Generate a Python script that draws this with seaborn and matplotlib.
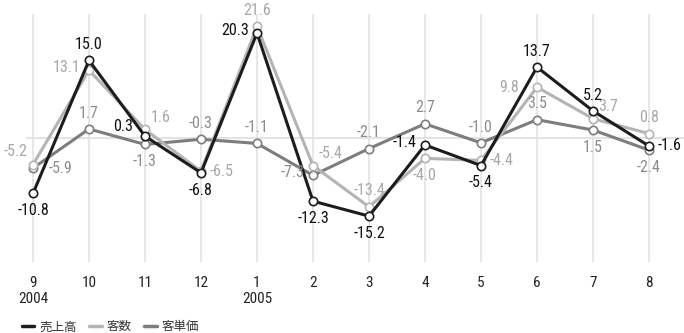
import matplotlib
matplotlib.use("Agg")
import matplotlib.pyplot as plt
import seaborn as sns
import pandas as pd
import numpy as np
from matplotlib.lines import Line2D
from matplotlib import font_manager

months = ["9", "10", "11", "12", "1", "2", "3", "4", "5", "6", "7", "8"]
years = ["2004", "", "", "", "2005", "", "", "", "", "", "", ""]
sales = [-10.8, 15.0, 0.3, -6.8, 20.3, -12.3, -15.2, -1.4, -5.4, 13.7, 5.2, -1.6]
customers = [-5.2, 13.1, 1.6, -6.5, 21.6, -5.4, -13.4, -4.0, -4.4, 9.8, 3.7, 0.8]
unit_price = [-5.9, 1.7, -1.3, -0.3, -1.1, -7.3, -2.1, 2.7, -1.0, 3.5, 1.5, -2.4]
series_names = ["売上高", "客数", "客単価"]

# label placement per point
pos_sales = ["b", "a", "l3", "b", "l", "b", "b", "l", "b", "a", "a", "r"]
pos_cust = ["lu", "l", "ru", "r", "a", "ru", "a", "b", "r", "l2", "ru", "a"]
pos_unit = ["r2", "a", "b", "a", "a", "l", "a", "a", "a", "a", "b", "b"]

sns.set_theme(style="white")

# pick a condensed font if one is installed
stretch = "normal"
num_family = "DejaVu Sans"
available = {(f.name, f.stretch) for f in font_manager.fontManager.ttflist}
names = {f.name for f in font_manager.fontManager.ttflist}
for cand in ["Roboto Condensed", "Liberation Sans Narrow", "Open Sans Condensed", "Noto Sans Condensed"]:
    if cand in names:
        num_family = cand
        break
else:
    if any(n == "DejaVu Sans" and s in ("condensed", "semi-condensed", 87, 75) for n, s in available):
        num_family = "DejaVu Sans"
        stretch = "condensed"
    elif any(n == "Roboto" and s in ("condensed", 75) for n, s in available):
        num_family = "Roboto"
        stretch = "condensed"

plt.rcParams["font.family"] = [num_family, "Noto Sans CJK JP", "DejaVu Sans"]
plt.rcParams["font.stretch"] = stretch

colors = {"売上高": "#1c1c1c", "客数": "#b4b4b4", "客単価": "#7d7d7d"}
label_colors = {"売上高": "#111111", "客数": "#a8a8a8", "客単価": "#8c8c8c"}

x = np.arange(len(months))
df = pd.concat([
    pd.DataFrame({"x": x, "value": sales, "series": series_names[0]}),
    pd.DataFrame({"x": x, "value": customers, "series": series_names[1]}),
    pd.DataFrame({"x": x, "value": unit_price, "series": series_names[2]}),
])

fig = plt.figure(figsize=(6.84, 3.33), dpi=100)
ax = fig.add_axes([26 / 684, 1 - 262 / 333, (684 - 26) / 684, (262 - 14) / 333])

for xi in x:
    ax.axvline(xi, color="#e3e3e3", lw=1.2, zorder=0)
ax.axhline(0, color="#e3e3e3", lw=1.5, zorder=0)

order = ["客単価", "客数", "売上高"]
for name in order:
    sub = df[df["series"] == name]
    sns.lineplot(data=sub, x="x", y="value", ax=ax, color=colors[name], lw=2.2,
                 marker="o", markersize=6, markerfacecolor="white",
                 markeredgecolor=colors[name], markeredgewidth=1.2, legend=False, zorder=3)

offsets = {"a": (0, 6, "center", "bottom"), "b": (0, -7, "center", "top"),
           "l": (-6, 2, "right", "center"), "r": (6, 0, "left", "center"),
           "l2": (-13, 0, "right", "center"), "r2": (11, 0, "left", "center"),
           "l3": (-9, 7, "right", "center"),
           "lu": (-4, 4, "right", "bottom"), "ru": (4, 3, "left", "bottom")}

for name, vals, poss in [("客単価", unit_price, pos_unit), ("客数", customers, pos_cust),
                         ("売上高", sales, pos_sales)]:
    for xi, v, p in zip(x, vals, poss):
        dx, dy, ha, va = offsets[p]
        ax.annotate(f"{v:.1f}", (xi, v), xytext=(dx, dy), textcoords="offset points",
                    ha=ha, va=va, fontsize=11.5, color=label_colors[name], zorder=5,
                    fontstretch=stretch)

ax.set_xlim(-0.125, 11.625)
ax.set_ylim(-24.1, 24)
ax.set_yticks([])
ax.set_xticks(x)
ax.set_xticklabels([m + ("\n" + y if y else "") for m, y in zip(months, years)],
                   fontsize=11, color="#222222", va="top", linespacing=1.15)
ax.tick_params(axis="x", length=0, pad=10)
ax.set_xlabel("")
ax.set_ylabel("")
for s in ax.spines.values():
    s.set_visible(False)

handles = [Line2D([0], [0], color=colors[n], lw=2.5) for n in series_names]
fig.legend(handles, series_names, loc="lower left", bbox_to_anchor=(0.015, -0.035),
           ncol=3, frameon=False, handlelength=1.0, handletextpad=0.4,
           columnspacing=1.0, labelcolor="#333333",
           prop={"family": ["Noto Sans CJK JP", "DejaVu Sans"], "size": 9})

fig.savefig("out.png", dpi=100)
